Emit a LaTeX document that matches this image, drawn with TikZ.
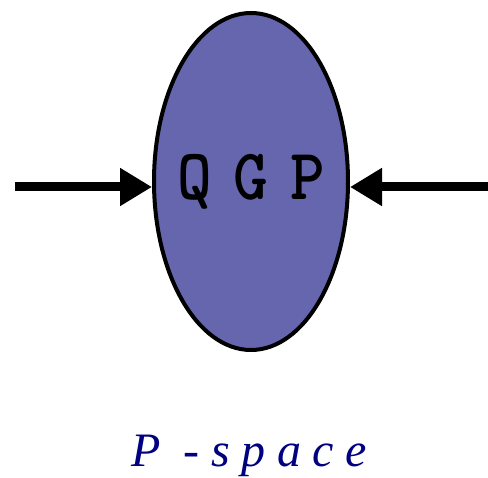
\documentclass[tikz,border=0pt]{standalone}
\usepackage{fontspec}
\setmainfont{Liberation Serif}
\usetikzlibrary{positioning,arrows.meta,shapes.geometric}
\definecolor{qgpfill}{RGB}{102,102,174}
\definecolor{spacenavy}{RGB}{0,0,128}

\begin{document}
\begin{tikzpicture}[
  x=1pt,y=1pt,
  phase/.style={ellipse,draw,line width=4pt,fill=qgpfill,inner sep=0pt,
                minimum width=194pt,minimum height=337pt,
                font=\ttfamily\bfseries\fontsize{66}{66}\selectfont},
  caption/.style={anchor=base,text=spacenavy,
                  font=\addfontfeatures{LetterSpace=24}\itshape\fontsize{48}{48}\selectfont},
  push/.style={-{Triangle[length=32pt,width=36pt]},line width=9pt}
]
\useasboundingbox (0,0) rectangle (488,478);
\node[phase] (qgp) at (251,296.5) {\makebox[0pt]{\raisebox{-5pt}{\scalebox{1}[1.1]{Q\hspace{22pt}G\hspace{22pt}P}}}};
\node[caption] (lbl) at (249,11) {P -space};
\coordinate (lin) at (15,291);
\coordinate (rin) at (488,291);
\draw[push] (lin) -- (lin -| qgp.west);
\draw[push] (rin) -- (rin -| qgp.east);
\end{tikzpicture}
\end{document}
